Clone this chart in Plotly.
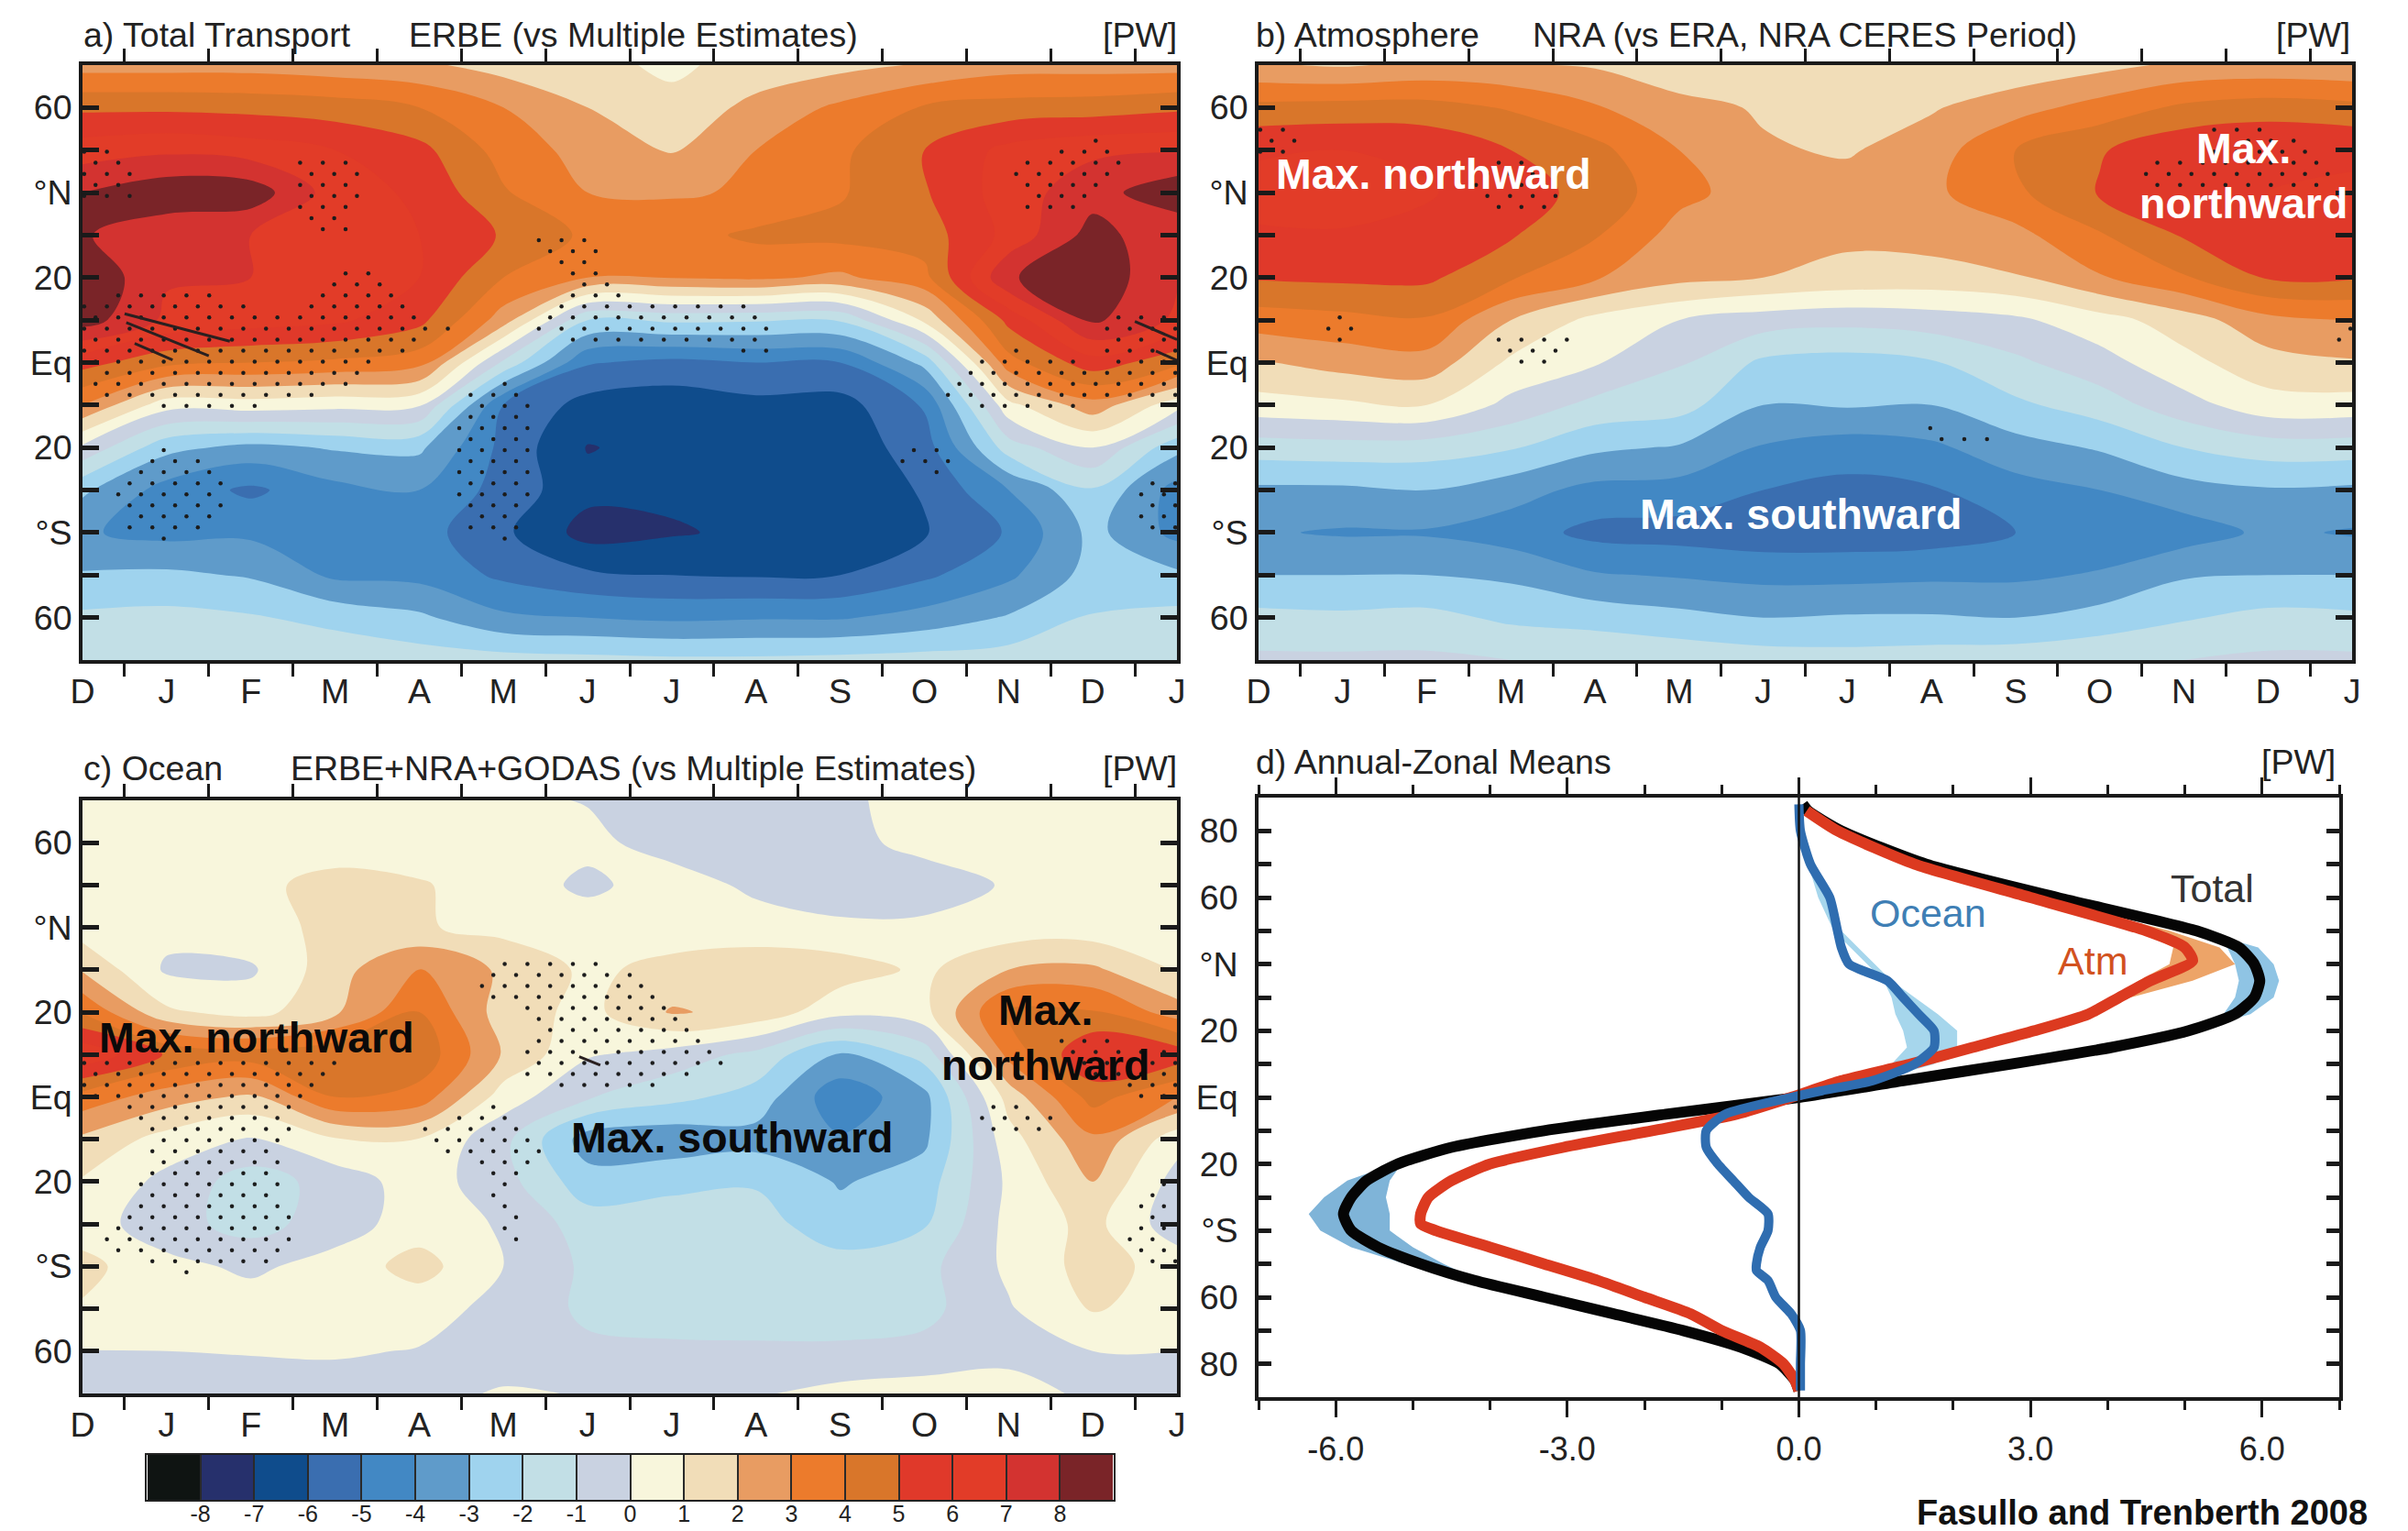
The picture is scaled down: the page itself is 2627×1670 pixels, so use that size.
import numpy as np
import plotly.graph_objects as go

W, H = 2627, 1670
PAGE_MARGIN = 8
FIG_W, FIG_H = W - PAGE_MARGIN, H - PAGE_MARGIN
MONTHS = ["D","J","F","M","A","M","J","J","A","S","O","N","D","J"]
MONTH_POS = list(range(14))
LATS = [70,60,50,40,30,20,10,0,-10,-20,-30,-40,-50,-60,-70]
LAT_TICKS = [60,40,20,0,-20,-40,-60]
LAT_LABELS = ["60","°N","20","Eq","20","°S","60"]
LEVEL_COLORS = ["#0f1412","#26306c","#0f4c8c","#3a6eb0","#4288c4","#5f9bca","#9fd3ee","#c2dfe6","#c9d2e1",
                "#f8f6dc","#f1ddb8","#e89c62","#ec7b2c","#d9762a","#e0392a","#e23c28","#d33330","#7a2428"]
CB_TICKS = list(range(-8,9))

Z_A = [
[2.6,2.6,2.6,2.4,2.2,1.6,1.3,0.8,1.4,1.7,2.1,2.6,2.6,2.6],
[4.8,4.8,4.7,4.5,4.0,3.0,2.0,1.3,2.3,3.2,4.1,4.4,4.5,4.8],
[6.5,6.8,6.5,6.0,5.3,3.6,2.6,1.9,3.0,3.8,5.0,6.3,6.8,6.9],
[8.0,8.7,8.6,6.5,5.8,4.1,3.0,2.9,3.1,3.9,4.9,6.5,7.6,8.7],
[8.1,7.3,7.0,6.7,6.0,4.9,3.8,3.6,4.2,4.3,4.5,6.3,8.4,7.2],
[8.9,7.1,7.0,6.9,6.0,4.0,3.0,3.05,3.2,2.8,3.7,7.9,8.7,7.1],
[8.5,6.8,6.5,6.2,5.3,2.5,-2.0,-1.8,-1.9,-1.9,1.2,5.3,8.2,6.8],
[5.4,4.3,4.0,3.8,3.4,-1.2,-4.9,-5.3,-5.0,-5.0,-2.7,3.6,5.6,4.3],
[3.0,0.4,0.5,0.3,0.1,-5.0,-6.4,-6.6,-6.3,-6.4,-4.9,0.7,2.6,0.4],
[-0.2,-2.7,-3.3,-2.9,-2.8,-5.3,-7.05,-6.7,-6.7,-6.6,-5.5,-1.5,0.0,-2.7],
[-2.8,-4.4,-5.2,-4.3,-4.0,-5.4,-6.7,-6.8,-6.8,-6.7,-5.9,-4.0,-2.1,-4.4],
[-3.9,-4.3,-4.2,-4.4,-4.6,-5.8,-7.4,-7.1,-6.8,-6.8,-6.1,-4.9,-2.7,-4.3],
[-2.9,-2.8,-3.1,-4.2,-4.3,-5.2,-5.8,-6.0,-6.1,-6.0,-5.2,-4.2,-2.6,-2.8],
[-1.8,-1.7,-1.9,-2.3,-2.8,-3.8,-4.0,-4.2,-4.1,-4.1,-3.6,-2.9,-1.9,-1.7],
[-1.1,-1.1,-1.2,-1.3,-1.5,-1.6,-1.7,-1.8,-1.8,-1.7,-1.6,-1.5,-1.2,-1.1],
]
Z_B = [
[2.1,1.9,2.2,2.1,1.9,1.4,1.15,1.1,1.2,1.3,1.7,2.2,2.3,2.2],
[4.3,4.4,4.4,3.9,3.1,2.3,1.9,1.2,1.9,2.6,3.4,4.2,4.5,4.3],
[5.9,6.0,5.8,5.0,4.3,3.0,2.1,1.9,2.5,4.0,4.9,5.8,6.0,5.9],
[6.3,6.5,6.1,5.4,4.7,3.3,2.5,2.4,2.8,3.8,5.1,5.9,6.0,6.1],
[5.9,5.9,5.7,5.1,4.1,2.6,2.2,2.2,2.4,2.7,3.9,5.1,5.7,5.9],
[5.1,5.2,5.2,4.1,3.1,2.3,2.0,1.7,1.6,1.9,2.9,3.9,5.1,5.1],
[3.5,3.7,3.9,2.0,0.7,0.0,-0.5,-0.7,-0.5,-0.2,0.6,1.5,2.7,3.0],
[1.9,2.4,2.6,0.8,0.1,-0.9,-2.2,-2.4,-2.1,-1.2,-0.4,0.7,1.6,1.9],
[0.6,0.8,1.0,-0.3,-1.3,-1.6,-3.0,-2.9,-3.0,-2.2,-1.5,-0.4,0.6,0.6],
[-1.5,-1.4,-1.5,-1.9,-2.8,-3.1,-4.1,-4.5,-4.2,-3.4,-2.9,-2.0,-1.5,-1.5],
[-3.2,-3.2,-3.0,-3.6,-4.3,-4.4,-5.0,-5.3,-5.1,-4.4,-4.0,-3.4,-3.1,-3.2],
[-3.9,-4.1,-4.1,-4.5,-5.3,-5.4,-5.6,-5.6,-5.5,-5.0,-4.7,-4.5,-3.8,-4.1],
[-3.0,-3.0,-3.0,-3.2,-3.9,-4.1,-4.3,-4.3,-4.2,-4.2,-3.9,-3.1,-3.0,-3.0],
[-1.7,-1.8,-1.7,-2.2,-2.4,-2.7,-3.0,-2.9,-2.9,-3.0,-2.6,-2.1,-1.7,-1.8],
[-0.8,-0.8,-0.8,-1.0,-1.1,-1.3,-1.5,-1.6,-1.5,-1.4,-1.2,-1.0,-0.8,-0.8],
]
Z_C = [
[.3,.3,.3,.3,.3,.2,-.05,-.5,-.5,-.1,.2,.2,.2,.3],
[.3,.3,.35,.4,.4,.4,.25,-.4,-.6,-.3,.3,.3,.3,.3],
[.4,.3,.7,1.4,1.1,.5,-.2,.45,-.2,-.6,-.5,.1,.3,.3],
[.5,.3,.7,1.2,1.1,.7,.5,.5,.4,.2,.2,.4,.4,.4],
[1.9,-.15,-.15,1.6,3.1,1.8,.8,1.3,1.7,1.5,.8,2.0,2.2,.9],
[3.9,1.2,.6,1.8,4.0,1.5,.7,2.1,1.7,.3,.7,4.2,4.1,2.5],
[6.8,4.9,4.5,4.9,4.7,1.9,.1,-.4,-1.3,-3.1,-1.6,3.3,6.0,5.6],
[3.6,2.5,1.8,4.0,3.6,.5,-.9,-1.7,-2.4,-4.7,-3.3,1.4,4.4,3.0],
[1.8,.6,-.1,.9,.95,-.7,-3.5,-3.7,-3.4,-3.9,-3.2,.6,2.8,.4],
[.9,-.3,-1.5,-.6,.5,-.6,-2.6,-2.2,-2.1,-3.1,-2.5,.2,2.0,-.4],
[.5,-.6,-1.4,-.5,.5,-.1,-1.5,-1.6,-1.6,-2.6,-2.1,.3,1.3,-.6],
[1.3,.3,-.2,.4,1.4,.0,-1.2,-1.5,-1.6,-1.6,-1.3,.2,1.4,.6],
[.9,.5,.5,.5,.4,-.3,-1.2,-1.5,-1.6,-1.6,-1.3,-.1,1.1,.5],
[-.02,.0,.05,.1,-.05,-.5,-.8,-.8,-.8,-.8,-.7,-.3,.0,.0],
[-.4,-.4,-.4,-.4,-.3,.1,-.05,-.3,-.1,.3,.5,.4,-.2,-.4],
]

# stippled regions (month, latitude outlines)
STIP_A = [
[(0,50),(.55,50),(.6,38),(0,38)],
[(2.57,48),(3.25,48),(3.35,36),(3.03,29),(2.43,35)],
[(5.08,30),(6.03,30),(6.3,18),(5.8,18)],
[(5.8,17),(6.3,17),(6.76,13.5),(7.86,14),(8.27,10.3),(8.13,1.6),(7.77,1.6),(7.77,4.3),(5.76,4.3),(5.35,7.6),(5.53,10.8)],
[(0,15.7),(1.57,16.2),(2.48,11.4),(3.03,23.8),(3.66,19),(4.39,7.6),(3.48,-.5),(3.2,-6),(2.75,-8.6),(1.84,-11.4),(.98,-11.4),(.2,-8),(0,-1.6)],
[(5.03,-4.9),(5.4,-12.4),(5.4,-23),(5.12,-43.8),(4.67,-40.5),(4.39,-34),(4.48,-12.4),(4.58,-7)],
[(.98,-20),(1.66,-25.4),(1.66,-37.3),(1.02,-43),(.47,-38.4),(.38,-29.7)],
[(9.86,-17.8),(10.4,-21),(10.05,-28.6),(9.64,-22)],
[(11.96,53),(12.42,49),(11.96,36),(11.14,36),(11,45),(11.5,50)],
[(10.55,.5),(11.05,3.8),(12.14,-.5),(11.96,10.3),(13,11.4),(13,-10.3),(12.14,-9.2),(11.41,-11.4),(10.59,-11.4),(10.18,-7)],
[(13,-27.6),(12.6,-27.6),(12.46,-35),(12.7,-39.5),(13,-39.5)],
]
STIP_B = [
[(0,57),(.45,57),(.5,48),(0,48)],
[(2.6,49),(3.2,49),(3.75,40),(3.6,35.5),(2.75,35.5),(2.55,40)],
[(.95,14),(1.25,10),(1.2,4.5),(.8,4.5),(.65,8)],
[(2.7,6),(3.7,6),(3.75,2),(3.5,-.5),(2.95,-.5)],
[(7.95,-15),(8.85,-18),(8.85,-20),(8.1,-20)],
[(11.3,57),(12,57),(12.8,45),(12.8,41.5),(10.5,41.5),(10.5,47),(11.3,50)],
[(12.7,9),(13,9),(13,4.5),(12.8,4.5)],
]
STIP_C = [
[(4.76,33),(5.94,33),(6.58,29),(7.68,8.7),(7.22,5),(6.49,.2),(5.67,.2),(5.12,6.2),(5.4,18),(4.71,24.4)],
[(0,10),(3.12,10),(3.03,5),(2.57,-2.2),(2.39,-13),(2.48,-36),(2.02,-41),(1.11,-41.5),(.2,-36),(.15,-32.4),(.61,-25),(.84,-9.4),(.56,-3.4),(0,0)],
[(4.99,-1),(5.49,-9.4),(5.4,-17.9),(5.03,-22.7),(5.3,-34.2),(4.94,-33.6),(4.85,-19),(4.21,-12.5),(3.94,-6.4)],
[(10.64,-1),(11.14,-1),(11.6,-5.8),(11.05,-10.6),(10.6,-7)],
[(11.5,14.7),(13,12.3),(13,-4.6),(12.5,-.2),(11.5,10)],
[(12.87,-20),(13,-40),(12.5,-38.5),(12.23,-33),(12.6,-25)],
]
HATCH_A = [[(.5,11.5),(1.75,5)],[(.52,9.4),(1.5,1.6)],[(.62,4.5),(1.07,.6)],[(12.5,9.7),(13,5.4)],[(12.75,2.7),(13,.5)]]
HATCH_C = [[(5.9,9.5),(6.15,7.5)]]

# Panel d
D_LAT_TOTAL = [88,86,80,70,60,50,45,40,35,30,25,20,15,10,5,0,-5,-10,-15,-20,-25,-30,-35,-40,-45,-50,-55,-60,-65,-70,-75,-80,-85,-88]
D_TOTAL = [.05,.12,.55,1.65,3.35,5.15,5.7,5.9,5.97,5.9,5.65,5.05,4.05,2.75,1.35,0,-1.7,-3.3,-4.5,-5.2,-5.6,-5.8,-5.9,-5.8,-5.45,-4.9,-4.2,-3.3,-2.4,-1.5,-.75,-.25,-.05,0]
D_LAT_ATM = [86,80,70,60,50,45,41,35,30,25,20,15,10,5,0,-5,-10,-15,-20,-25,-30,-35,-38,-40,-45,-50,-55,-60,-65,-70,-75,-80,-85,-88]
D_ATM = [.1,.5,1.5,3.0,4.5,5.0,5.1,4.55,4.15,3.75,3.05,2.25,1.45,.55,-.1,-.8,-1.9,-3.05,-4.0,-4.5,-4.8,-4.9,-4.9,-4.7,-4.0,-3.3,-2.6,-2.0,-1.4,-1.0,-.5,-.2,-.05,0]
D_LAT_OCEAN = [88,80,70,60,50,45,40,35,30,25,20,15,10,5,2,0,-5,-10,-15,-20,-25,-30,-35,-40,-45,-50,-52,-55,-60,-65,-70,-80,-88]
D_OCEAN = [0,.02,.15,.4,.5,.55,.65,1.15,1.35,1.55,1.75,1.75,1.5,.95,.3,-.1,-.95,-1.2,-1.2,-1.05,-.85,-.65,-.4,-.4,-.5,-.55,-.55,-.4,-.3,-.1,.02,.02,.02]
BAND_TOTAL_N_LAT = [50,45,40,35,30,25,20]
BAND_TOTAL_N_LO = [5.1,5.55,5.65,5.7,5.65,5.5,5.0]
BAND_TOTAL_N_HI = [5.2,5.95,6.15,6.22,6.15,5.85,5.1]
BAND_TOTAL_S_LAT = [-20,-25,-30,-35,-40,-45,-50,-55]
BAND_TOTAL_S_LO = [-5.25,-5.85,-6.15,-6.35,-6.2,-5.8,-5.1,-4.25]
BAND_TOTAL_S_HI = [-5.15,-5.3,-5.35,-5.3,-5.3,-5.0,-4.6,-4.15]
BAND_ATM_LAT = [60,50,45,40,35,30,25]
BAND_ATM_LO = [2.95,4.4,4.85,4.8,4.4,4.1,3.7]
BAND_ATM_HI = [3.1,4.8,5.45,5.65,5.1,4.3,3.8]
BAND_OCEAN_LAT = [70,60,50,35,30,25,20,15,10,5]
BAND_OCEAN_LO = [.12,.25,.45,1.1,1.2,1.25,1.35,1.4,1.2,.9]
BAND_OCEAN_HI = [.18,.42,.55,1.2,1.5,1.8,2.05,2.05,1.75,1.0]
D_X_TICKS = [-6,-3,0,3,6]
D_X_LABELS = ["-6.0","-3.0","0.0","3.0","6.0"]
D_Y_TICKS = [80,60,40,20,0,-20,-40,-60,-80]
D_Y_LABELS = ["80","60","°N","20","Eq","20","°S","60","80"]

FONT = "Liberation Sans"
TXT = "#222222"
FS = 37.5
STEP_SCALE = [[i/17, c] for i, c in enumerate(LEVEL_COLORS)]

def xdom(a, b): return [(a-PAGE_MARGIN)/FIG_W, (b-PAGE_MARGIN)/FIG_W]
def ydom(a, b): return [1-(b-PAGE_MARGIN)/FIG_H, 1-(a-PAGE_MARGIN)/FIG_H]

def in_poly(px, py, poly):
    poly = np.array(poly, float)
    inside = np.zeros(px.shape, bool)
    n = len(poly)
    for i in range(n):
        x1, y1 = poly[i]; x2, y2 = poly[(i+1) % n]
        cond = (y1 > py) != (y2 > py)
        xi = (x2-x1)*(py-y1)/((y2-y1) if y2 != y1 else 1e-9)+x1
        inside ^= cond & (px < xi)
    return inside

def stipples(polys):
    lats = np.arange(-70, 70, 2.6)
    xs, ys = [], []
    for j, lat in enumerate(lats):
        m = np.arange(0.02 + (j % 2)*0.135, 13.0, 0.27)
        keep = np.zeros(m.shape, bool)
        for p in polys:
            keep |= in_poly(m, np.full(m.shape, lat), p)
        xs += list(m[keep]); ys += [lat]*int(keep.sum())
    return xs, ys

fig = go.Figure()

PANELS = [("x","y",Z_A,STIP_A,HATCH_A),("x2","y2",Z_B,STIP_B,[]),("x3","y3",Z_C,STIP_C,HATCH_C)]
for xa, ya, z, st, hatch in PANELS:
    fig.add_trace(go.Contour(z=z, x=MONTH_POS, y=LATS, xaxis=xa, yaxis=ya, autocontour=False,
        contours=dict(start=-8, end=8, size=1, coloring="fill", showlines=False),
        colorscale=STEP_SCALE, showscale=False, line=dict(width=0), hoverinfo="skip"))
    sx, sy = stipples(st)
    fig.add_trace(go.Scatter(x=sx, y=sy, xaxis=xa, yaxis=ya, mode="markers",
        marker=dict(size=4.5, color="#1c1c1c"), hoverinfo="skip", showlegend=False))
    for seg in hatch:
        fig.add_trace(go.Scatter(x=[seg[0][0], seg[1][0]], y=[seg[0][1], seg[1][1]], xaxis=xa, yaxis=ya,
            mode="lines", line=dict(color="#2a2020", width=3), hoverinfo="skip", showlegend=False))

def band(lat, lo, hi, col):
    fig.add_trace(go.Scatter(x=list(lo)+list(hi)[::-1], y=list(lat)+list(lat)[::-1], xaxis="x4", yaxis="y4",
        mode="lines", fill="toself", fillcolor=col, line=dict(width=0), hoverinfo="skip", showlegend=False))

band(BAND_TOTAL_N_LAT, BAND_TOTAL_N_LO, BAND_TOTAL_N_HI, "#8fc4e4")
band(BAND_TOTAL_S_LAT, BAND_TOTAL_S_LO, BAND_TOTAL_S_HI, "#7fb4d8")
band(BAND_ATM_LAT, BAND_ATM_LO, BAND_ATM_HI, "#eda468")
band(BAND_OCEAN_LAT, BAND_OCEAN_LO, BAND_OCEAN_HI, "#a6d6ec")
for xv, yv, col, wd in [(D_TOTAL, D_LAT_TOTAL, "#050505", 12), (D_ATM, D_LAT_ATM, "#dc3a20", 12), (D_OCEAN, D_LAT_OCEAN, "#2f6db0", 10)]:
    fig.add_trace(go.Scatter(x=xv, y=yv, xaxis="x4", yaxis="y4", mode="lines",
        line=dict(color=col, width=wd, shape="spline", smoothing=0.6), hoverinfo="skip", showlegend=False))
fig.add_trace(go.Scatter(x=[0, 0], y=[-90, 90], xaxis="x4", yaxis="y4", mode="lines",
    line=dict(color="#111", width=2.5), hoverinfo="skip", showlegend=False))

# colour key
fig.add_trace(go.Heatmap(z=[[v + 0.5 for v in [-9] + CB_TICKS]], x=[v + 0.5 for v in [-9] + CB_TICKS], y=[0],
    xaxis="x5", yaxis="y5", colorscale=STEP_SCALE, zmin=-8.5, zmax=8.5, showscale=False, xgap=2, hoverinfo="skip"))

axis_font = dict(family=FONT, size=FS, color=TXT)

def month_axis(dom, anchor):
    return dict(domain=xdom(*dom), anchor=anchor, range=[0, 13], tickmode="array", tickvals=MONTH_POS, ticktext=MONTHS,
        ticks="outside", ticklen=1, tickcolor="rgba(0,0,0,0)", tickwidth=1, tickfont=axis_font, ticklabelstandoff=-3, showgrid=False, zeroline=False, automargin=False,
        showline=True, linewidth=4, linecolor="#1a1a1a", mirror="ticks",
        minor=dict(tickvals=[k + 0.5 for k in range(13)], ticks="outside", ticklen=14, tickwidth=3, tickcolor="#1a1a1a", showgrid=False))

def lat_axis(dom, anchor):
    return dict(domain=ydom(*dom), anchor=anchor, range=[-70, 70], tickmode="array", tickvals=LAT_TICKS, ticktext=LAT_LABELS,
        ticks="inside", ticklen=18, tickwidth=5, tickcolor="#1a1a1a", tickfont=axis_font, showgrid=False, zeroline=False, automargin=False,
        showline=True, linewidth=4, linecolor="#1a1a1a", mirror="ticks",
        minor=dict(tickvals=list(range(-50, 60, 20)), ticks="inside", ticklen=18, tickwidth=5, tickcolor="#1a1a1a", showgrid=False))

fig.update_layout(
    width=FIG_W, height=FIG_H, margin=dict(l=0, r=0, t=0, b=0, pad=0, autoexpand=False), autosize=False,
    paper_bgcolor="white", plot_bgcolor="white", showlegend=False,
    xaxis=month_axis((90, 1284), "y"), yaxis=lat_axis((71, 720), "x"),
    xaxis2=month_axis((1373, 2566), "y2"), yaxis2=lat_axis((71, 720), "x2"),
    xaxis3=month_axis((90, 1284), "y3"), yaxis3=lat_axis((873, 1520), "x3"),
    xaxis4=dict(domain=xdom(1373, 2552), anchor="y4", range=[-7, 7], tickmode="array", tickvals=D_X_TICKS, ticktext=D_X_LABELS,
        ticks="outside", ticklen=18, tickwidth=3, tickcolor="#1a1a1a", tickfont=dict(family=FONT, size=36, color=TXT), ticklabelstandoff=4,
        showgrid=False, zeroline=False, showline=True, linewidth=4, linecolor="#1a1a1a", mirror="ticks", automargin=False,
        minor=dict(dtick=1, tick0=0, ticks="outside", ticklen=10, tickwidth=3, tickcolor="#1a1a1a", showgrid=False)),
    yaxis4=dict(domain=ydom(870, 1524), anchor="x4", range=[-90, 90], tickmode="array", tickvals=D_Y_TICKS, ticktext=D_Y_LABELS,
        ticks="inside", ticklen=14, tickwidth=5, tickcolor="#1a1a1a", tickfont=axis_font, ticklabelstandoff=11, showgrid=False, zeroline=False,
        showline=True, linewidth=4, linecolor="#1a1a1a", mirror="ticks", automargin=False,
        minor=dict(tickvals=list(range(-70, 80, 20)), ticks="inside", ticklen=14, tickwidth=5, tickcolor="#1a1a1a", showgrid=False)),
    xaxis5=dict(domain=xdom(160, 1215), anchor="y5", range=[-9, 9], tickmode="array", tickvals=CB_TICKS, ticktext=[str(v) for v in CB_TICKS],
        ticks="", tickfont=dict(family=FONT, size=25, color=TXT), ticklabelstandoff=-8, showgrid=True, gridcolor="#2a2a2a", gridwidth=2, zeroline=False, showline=True, linewidth=2, linecolor="#222", mirror=True, automargin=False),
    yaxis5=dict(domain=ydom(1587, 1636), anchor="x5", range=[-0.5, 0.5], showticklabels=False, ticks="", showgrid=False, zeroline=False,
        showline=True, linewidth=2, linecolor="#222", mirror=True, fixedrange=True, automargin=False),
)

def txt(text, x, y, anchor="left", size=FS, color=TXT, bold=False):
    fig.add_annotation(text=f"<b>{text}</b>" if bold else text, x=(x-PAGE_MARGIN)/FIG_W, y=1-(y-PAGE_MARGIN)/FIG_H, xref="paper", yref="paper",
        xanchor=anchor, yanchor="middle", showarrow=False, font=dict(family=FONT, size=size, color=color), align="center")

txt("a) Total Transport", 89, 38)
txt("ERBE (vs Multiple Estimates)", 444, 38)
txt("[PW]", 1286, 38, "right")
txt("b) Atmosphere", 1368, 38)
txt("NRA (vs ERA, NRA CERES Period)", 1670, 38)
txt("[PW]", 2566, 38, "right")
txt("c) Ocean", 89, 838)
txt("ERBE+NRA+GODAS (vs Multiple Estimates)", 315, 838)
txt("[PW]", 1286, 838, "right")
txt("d) Annual-Zonal Means", 1368, 831)
txt("[PW]", 2550, 831, "right")
txt("Max. northward", 1564, 190, "center", 46.5, "white", True)
txt("Max.<br>northward", 2447, 192, "center", 46.5, "white", True)
txt("Max. southward", 1964, 561, "center", 46.5, "white", True)
txt("Max. northward", 280, 1132, "center", 46.5, "#0a0a0a", True)
txt("Max. southward", 798, 1241, "center", 46.5, "#0a0a0a", True)
txt("Max.<br>northward", 1140, 1132, "center", 46.5, "#0a0a0a", True)
txt("Fasullo and Trenberth 2008", 2585, 1650, "right", 38, "#111", True)

for text, xv, yv, col in [("Total", 5.36, 62.7, "#333"), ("Ocean", 1.67, 55.4, "#3f7fb5"), ("Atm", 3.8, 41, "#d2521f")]:
    fig.add_annotation(text=text, x=xv, y=yv, xref="x4", yref="y4", showarrow=False, font=dict(family=FONT, size=43, color=col))

fig.write_html("out.html")
